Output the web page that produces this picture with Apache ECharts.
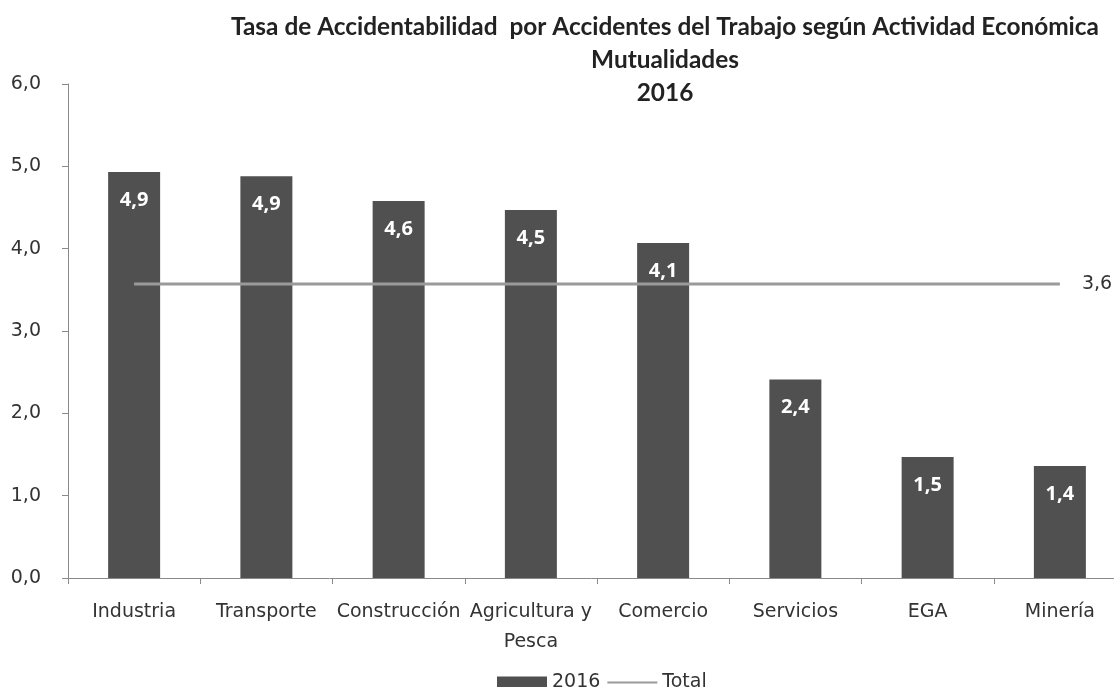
<!DOCTYPE html>
<html>
<head>
<meta charset="utf-8">
<script src="https://cdn.jsdelivr.net/npm/echarts@6/dist/echarts.min.js"></script>
<style>
  html, body {margin: 0; padding: 0; background: #fff;}
  #chart {width: 1114px; height: 687px;}
</style>
</head>
<body>
<div id="chart"></div>
<script>
// datos
var categorias = ['Industria', 'Transporte', 'Construcción', 'Agricultura y\nPesca', 'Comercio', 'Servicios', 'EGA', 'Minería']
var tasa2016 = [4.93, 4.88, 4.58, 4.47, 4.07, 2.41, 1.47, 1.36]
var total = [3.57, 3.57, 3.57, 3.57, 3.57, 3.57, 3.57, 3.57]
var yTicks = [0, 1, 2, 3, 4, 5, 6]

var coma = function (v) { return Number(v).toFixed(1).replace('.', ',') }
var txt = '#333'
var gris = '#8a8a8a'

var chart = echarts.init(document.getElementById('chart'))
chart.setOption({
  animation: false,
  title: {
    text: 'Tasa de Accidentabilidad  por Accidentes del Trabajo según Actividad Económica\nMutualidades\n2016',
    left: 660,
    top: 6,
    textAlign: 'center',
    textStyle: {fontFamily: 'Lato', fontWeight: 'bold', fontSize: 24.4, lineHeight: 33, color: '#222'}
  },
  legend: {
    left: 492, top: 668,
    itemWidth: 50, itemHeight: 12, itemGap: 6,
    textStyle: {fontFamily: 'DejaVu Sans', fontSize: 19, color: txt},
    data: [{name: '2016', icon: 'rect'}, {name: 'Total', itemStyle: {opacity: 0}}]
  },
  // el grafico original sale cortado por la derecha
  grid: {left: 68, width: 1058, top: 84, bottom: 109, outerBoundsMode: 'none', containLabel: false},
  xAxis: {
    type: 'category',
    data: categorias,
    axisLine: {lineStyle: {color: gris, width: 1}},
    axisTick: {show: true, length: 6, lineStyle: {color: gris}},
    axisLabel: {fontFamily: 'DejaVu Sans', fontSize: 19, color: txt, margin: 19, lineHeight: 30, interval: 0}
  },
  yAxis: {
    type: 'value',
    min: yTicks[0], max: yTicks[yTicks.length - 1], interval: 1,
    splitLine: {show: false},
    axisLine: {show: true, lineStyle: {color: gris, width: 1}},
    axisTick: {show: true, length: 6, lineStyle: {color: gris}},
    axisLabel: {fontFamily: 'DejaVu Sans', fontSize: 19, color: txt, margin: 27, formatter: coma}
  },
  series: [
    {
      name: '2016', type: 'bar', data: tasa2016, barWidth: 52,
      itemStyle: {color: '#505050'},
      label: {show: true, position: 'insideTop', distance: 18, color: '#fff', fontFamily: 'Open Sans', fontWeight: 'bold', fontSize: 20,
        formatter: function (p) { return coma(p.value) }}
    },
    {
      name: 'Total', type: 'line', data: total, symbol: 'none',
      lineStyle: {color: '#9a9a9a', width: 3}, itemStyle: {color: '#9a9a9a'},
      endLabel: {show: true, distance: 22, color: txt, fontFamily: 'DejaVu Sans', fontSize: 19,
        formatter: function (p) { return coma(p.value) }}
    }
  ]
})
</script>
</body>
</html>
